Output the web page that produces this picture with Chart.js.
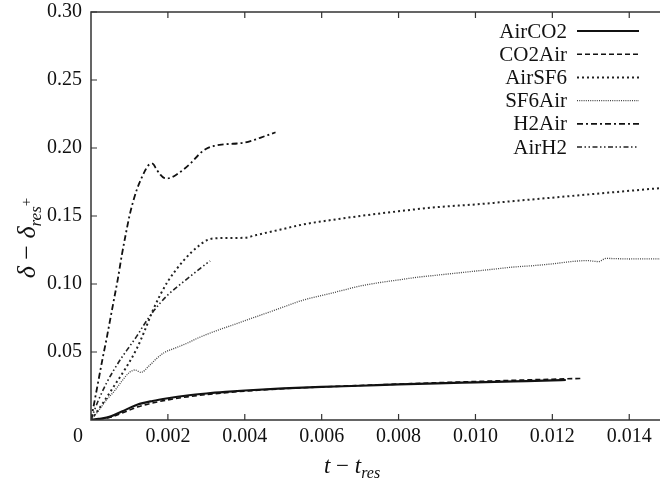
<!DOCTYPE html>
<html>
<head>
<meta charset="UTF-8">
<title>delta vs t</title>
<script src="https://cdn.jsdelivr.net/npm/chart.js"></script>
<style>
  body { margin: 0; background: #fff; }
  .wrap { width: 660px; height: 485px; position: relative; }
</style>
</head>
<body>
<div class="wrap"><canvas id="c"></canvas></div>
<script>
// ticks
const xTicks = [0, 0.002, 0.004, 0.006, 0.008, 0.010, 0.012, 0.014];
const xTickLabels = ['0', '0.002', '0.004', '0.006', '0.008', '0.010', '0.012', '0.014'];
const yTicks = [0.05, 0.10, 0.15, 0.20, 0.25, 0.30];
const yTickLabels = ['0.05', '0.10', '0.15', '0.20', '0.25', '0.30'];

// series
const airCO2T = [0, 0.0002, 0.0005, 0.0008, 0.0012, 0.0016, 0.002, 0.0025, 0.003, 0.0035, 0.004, 0.005, 0.006, 0.007, 0.008, 0.009, 0.010, 0.011, 0.012, 0.01235];
const airCO2V = [0, 0.0008, 0.0025, 0.0062, 0.0112, 0.0140, 0.0160, 0.0180, 0.0195, 0.0207, 0.0217, 0.0232, 0.0243, 0.0252, 0.0262, 0.0270, 0.0277, 0.0284, 0.0291, 0.0294];

const co2AirT = [0, 0.0002, 0.0005, 0.0008, 0.0012, 0.0016, 0.002, 0.0025, 0.003, 0.004, 0.005, 0.006, 0.007, 0.008, 0.009, 0.010, 0.011, 0.012, 0.0128];
const co2AirV = [0, 0.0006, 0.0020, 0.0050, 0.0095, 0.0125, 0.0148, 0.0170, 0.0187, 0.0212, 0.0230, 0.0243, 0.0254, 0.0264, 0.0274, 0.0283, 0.0292, 0.0300, 0.0306];

const airSF6T = [0, 0.0003, 0.0006, 0.0009, 0.0012, 0.0014, 0.0016, 0.0018, 0.002, 0.0022, 0.0024, 0.0026, 0.0028, 0.003, 0.0032, 0.0036, 0.004, 0.0043, 0.005, 0.0055, 0.006, 0.007, 0.008, 0.009, 0.010, 0.011, 0.012, 0.013, 0.014, 0.0148];
const airSF6V = [0, 0.012, 0.025, 0.038, 0.053, 0.066, 0.080, 0.092, 0.102, 0.110, 0.117, 0.123, 0.128, 0.1320, 0.1335, 0.1338, 0.1340, 0.1360, 0.1405, 0.1437, 0.1460, 0.1500, 0.1535, 0.1565, 0.1585, 0.1610, 0.1635, 0.1660, 0.1685, 0.1705];

const sf6AirT = [0, 0.0002, 0.0004, 0.0006, 0.0008, 0.001, 0.00115, 0.0013, 0.0015, 0.0017, 0.0019, 0.0022, 0.0025, 0.0028, 0.0032, 0.0036, 0.004, 0.0045, 0.005, 0.0055, 0.006, 0.0065, 0.007, 0.0075, 0.008, 0.0085, 0.009, 0.0095, 0.010, 0.0105, 0.011, 0.0115, 0.012, 0.0125, 0.0129, 0.0132, 0.0134, 0.0137, 0.014, 0.0144, 0.0148];
const sf6AirV = [0, 0.0070, 0.0147, 0.0210, 0.0285, 0.0350, 0.0368, 0.0350, 0.0395, 0.0450, 0.0495, 0.0530, 0.0565, 0.0605, 0.0650, 0.0690, 0.0730, 0.0780, 0.0830, 0.0880, 0.0915, 0.0950, 0.0985, 0.1010, 0.1030, 0.1050, 0.1065, 0.1080, 0.1095, 0.1110, 0.1125, 0.1135, 0.1148, 0.1165, 0.1172, 0.1165, 0.1188, 0.1186, 0.1184, 0.1185, 0.1184];

const h2AirT = [0, 0.0001, 0.0002, 0.0003, 0.0004, 0.0005, 0.0006, 0.0007, 0.0008, 0.0009, 0.001, 0.0011, 0.0012, 0.0013, 0.0014, 0.0015, 0.0016, 0.0017, 0.0018, 0.0019, 0.002, 0.0021, 0.0022, 0.0024, 0.0026, 0.0028, 0.003, 0.0032, 0.0034, 0.0036, 0.0038, 0.004, 0.0042, 0.0044, 0.0046, 0.0048];
const h2AirV = [0, 0.015, 0.030, 0.045, 0.059, 0.074, 0.089, 0.104, 0.121, 0.136, 0.150, 0.161, 0.170, 0.177, 0.183, 0.1875, 0.1885, 0.1845, 0.1805, 0.1780, 0.1777, 0.1785, 0.1800, 0.1840, 0.1890, 0.1950, 0.1995, 0.2015, 0.2025, 0.2030, 0.2033, 0.2040, 0.2055, 0.2075, 0.2095, 0.2115];

const airH2T = [0, 0.0001, 0.0002, 0.0004, 0.0006, 0.0008, 0.001, 0.0012, 0.0014, 0.0016, 0.0018, 0.002, 0.0022, 0.0024, 0.0026, 0.0028, 0.003, 0.0031];
const airH2V = [0, 0.008, 0.015, 0.027, 0.037, 0.046, 0.054, 0.062, 0.071, 0.079, 0.086, 0.092, 0.097, 0.1015, 0.106, 0.1105, 0.1150, 0.1169];

const serif = '"Liberation Serif", "DejaVu Serif", serif';
const ink = '#111';

function pts(t, v) {
    return t.map((x, i) => ({ x: x, y: v[i] }));
}

function line(label, t, v, dash, width, color) {
    return {
        label: label,
        data: pts(t, v),
        borderColor: color,
        borderWidth: width,
        borderDash: dash,
        pointRadius: 0,
        fill: false,
        cubicInterpolationMode: 'monotone'
    };
}

// draw a run of text pieces with their own fonts / baseline shifts
function drawRich(ctx, parts, x, y, align) {
    let total = 0;
    parts.forEach(p => { ctx.font = p.font; total += ctx.measureText(p.text).width; });
    let cx = align === 'center' ? x - total / 2 : x;
    ctx.textAlign = 'left';
    ctx.textBaseline = 'alphabetic';
    parts.forEach(p => {
        ctx.font = p.font;
        ctx.fillText(p.text, cx, y + (p.dy || 0));
        cx += ctx.measureText(p.text).width;
    });
}

const framePlugin = {
    id: 'frame',
    afterDatasetsDraw(chart) {
        const { ctx, chartArea: a, scales } = chart;
        const x = scales.x, y = scales.y;
        ctx.save();
        ctx.strokeStyle = '#333';
        ctx.lineWidth = 1.5;
        ctx.beginPath();
        ctx.moveTo(a.right, a.top);
        ctx.lineTo(a.left, a.top);
        ctx.lineTo(a.left, a.bottom);
        ctx.lineTo(a.right, a.bottom);
        ctx.stroke();
        ctx.lineWidth = 1.2;
        ctx.beginPath();
        xTicks.forEach(v => {
            if (v === 0) return;
            const px = x.getPixelForValue(v);
            ctx.moveTo(px, a.bottom); ctx.lineTo(px, a.bottom - 6);
            ctx.moveTo(px, a.top); ctx.lineTo(px, a.top + 6);
        });
        yTicks.forEach(v => {
            const py = y.getPixelForValue(v);
            ctx.moveTo(a.left, py); ctx.lineTo(a.left + 6, py);
        });
        ctx.stroke();
        // the shared "0" at the corner
        ctx.fillStyle = ink;
        ctx.font = '20px ' + serif;
        ctx.textAlign = 'center';
        ctx.textBaseline = 'middle';
        ctx.fillText(xTickLabels[0], x.getPixelForValue(0) - 13, a.bottom + 17);
        ctx.restore();
    },
    afterDraw(chart) {
        const { ctx } = chart;
        ctx.save();
        ctx.fillStyle = ink;
        // legend, text right aligned, sample line on the right
        ctx.font = '21px ' + serif;
        chart.data.datasets.forEach((ds, i) => {
            const yy = 31 + i * 23.2;
            ctx.textAlign = 'right';
            ctx.textBaseline = 'middle';
            ctx.fillText(ds.label, 567, yy + 1);
            ctx.save();
            ctx.strokeStyle = ds.borderColor;
            ctx.lineWidth = ds.borderWidth;
            ctx.setLineDash(ds.borderDash);
            ctx.beginPath();
            ctx.moveTo(577, yy);
            ctx.lineTo(639, yy);
            ctx.stroke();
            ctx.restore();
        });
        // x title
        const it = 'italic 23px ' + serif, up = '23px ' + serif, sub = 'italic 16px ' + serif;
        drawRich(ctx, [
            { text: 't', font: it },
            { text: ' \u2212 ', font: up },
            { text: 't', font: it },
            { text: 'res', font: sub, dy: 5 }
        ], 352, 473, 'center');
        // y title
        ctx.translate(35, 238);
        ctx.rotate(-Math.PI / 2);
        drawRich(ctx, [
            { text: '\u03b4', font: 'italic 26px ' + serif },
            { text: ' \u2212 ', font: '26px ' + serif },
            { text: '\u03b4', font: 'italic 26px ' + serif },
            { text: 'res', font: 'italic 17px ' + serif, dy: 6 },
            { text: '+', font: '15px ' + serif, dy: -4 }
        ], 0, 0, 'center');
        ctx.restore();
    }
};

new Chart(document.getElementById('c'), {
    type: 'line',
    data: {
        datasets: [
            line('AirCO2', airCO2T, airCO2V, [], 2.2, '#111'),
            line('CO2Air', co2AirT, co2AirV, [5, 3], 1.6, '#111'),
            line('AirSF6', airSF6T, airSF6V, [2, 3], 2, '#222'),
            line('SF6Air', sf6AirT, sf6AirV, [1, 1.2], 1.3, '#444'),
            line('H2Air', h2AirT, h2AirV, [6, 3, 2, 3], 1.8, '#111'),
            line('AirH2', airH2T, airH2V, [5, 2.5, 1.5, 2.5, 1.5, 2.5], 1.6, '#222')
        ]
    },
    options: {
        responsive: true,
        maintainAspectRatio: false,
        animation: false,
        layout: { padding: { top: 12, right: 0, left: 0, bottom: 0 } },
        plugins: {
            legend: { display: false },
            tooltip: { enabled: false }
        },
        scales: {
            x: {
                type: 'linear',
                min: 0,
                max: 0.0148,
                grid: { display: false, drawTicks: false },
                border: { display: false },
                afterBuildTicks: s => { s.ticks = xTicks.map(v => ({ value: v })); },
                afterFit: s => { s.height = 65; s.paddingLeft = 0; s.paddingRight = 0; },
                ticks: {
                    padding: 5,
                    maxRotation: 0,
                    color: ink,
                    font: { family: serif, size: 20 },
                    callback: (v, i) => (i === 0 ? '' : xTickLabels[i])
                }
            },
            y: {
                type: 'linear',
                min: 0,
                max: 0.30,
                grid: { display: false, drawTicks: false },
                border: { display: false },
                afterBuildTicks: s => { s.ticks = yTicks.map(v => ({ value: v })); },
                afterFit: s => { s.width = 91; s.paddingTop = 0; s.paddingBottom = 0; },
                ticks: {
                    padding: 9,
                    color: ink,
                    font: { family: serif, size: 20 },
                    callback: (v, i) => yTickLabels[i]
                }
            }
        }
    },
    plugins: [framePlugin]
});
</script>
</body>
</html>
